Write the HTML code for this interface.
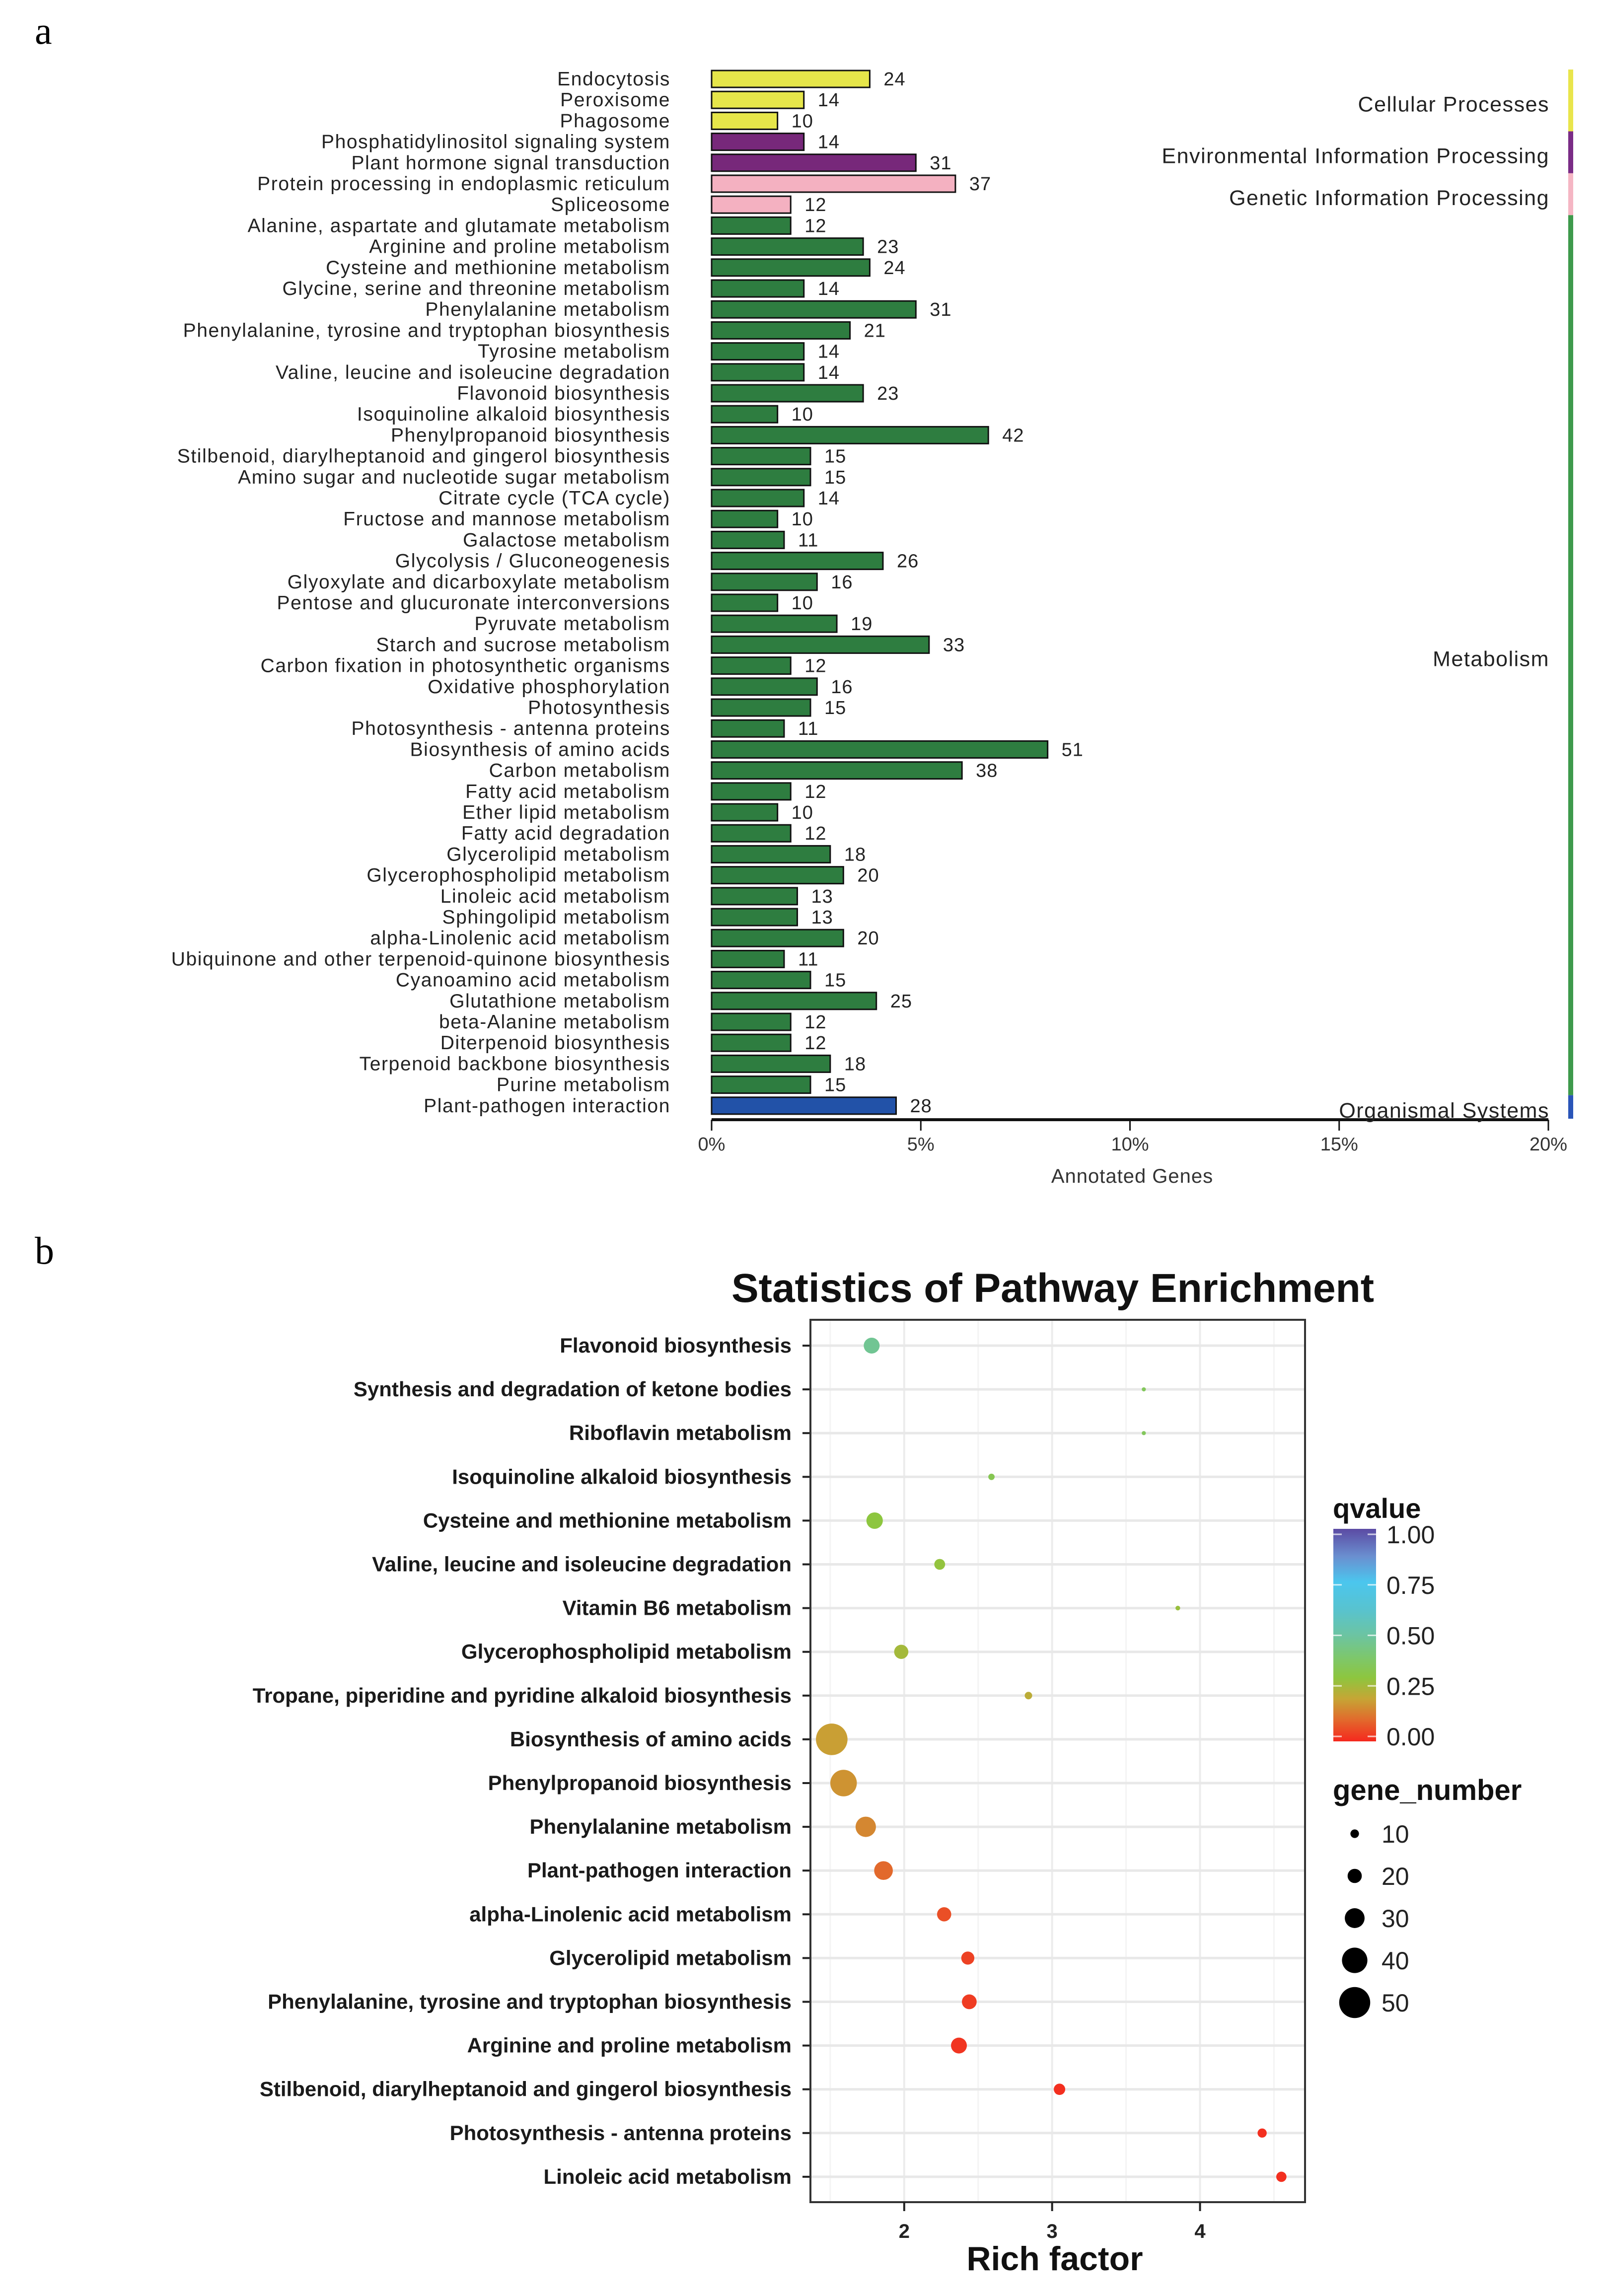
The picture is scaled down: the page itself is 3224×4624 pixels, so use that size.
<!DOCTYPE html>
<html><head><meta charset="utf-8">
<style>
html,body{margin:0;padding:0;background:#fff;}
svg{display:block;}
text{font-family:"Liberation Sans",sans-serif;}
</style></head>
<body>
<svg id="fig" width="3224" height="4624" viewBox="0 0 3224 4624" xmlns="http://www.w3.org/2000/svg">
<defs>
<linearGradient id="qgrad" x1="0" y1="1" x2="0" y2="0">
<stop offset="0" stop-color="#f5281e"/>
<stop offset="0.1" stop-color="#e2692c"/>
<stop offset="0.2" stop-color="#c6a535"/>
<stop offset="0.3" stop-color="#8dc63f"/>
<stop offset="0.4" stop-color="#7cc76f"/>
<stop offset="0.5" stop-color="#6cc4a2"/>
<stop offset="0.62" stop-color="#58c3cf"/>
<stop offset="0.75" stop-color="#4bc6ee"/>
<stop offset="0.87" stop-color="#6a8fd0"/>
<stop offset="1" stop-color="#5b4aa3"/>
</linearGradient>
</defs>
<text x="70" y="88" font-size="78" style="font-family:'Liberation Serif',serif">a</text>
<text x="70" y="2545" font-size="78" style="font-family:'Liberation Serif',serif">b</text>
<g id="pa"></g>
<g id="pb"></g>
</svg>
<script>
// ---------- Panel a data ----------
const pathwayNames = ["Endocytosis","Peroxisome","Phagosome","Phosphatidylinositol signaling system","Plant hormone signal transduction","Protein processing in endoplasmic reticulum","Spliceosome","Alanine, aspartate and glutamate metabolism","Arginine and proline metabolism","Cysteine and methionine metabolism","Glycine, serine and threonine metabolism","Phenylalanine metabolism","Phenylalanine, tyrosine and tryptophan biosynthesis","Tyrosine metabolism","Valine, leucine and isoleucine degradation","Flavonoid biosynthesis","Isoquinoline alkaloid biosynthesis","Phenylpropanoid biosynthesis","Stilbenoid, diarylheptanoid and gingerol biosynthesis","Amino sugar and nucleotide sugar metabolism","Citrate cycle (TCA cycle)","Fructose and mannose metabolism","Galactose metabolism","Glycolysis / Gluconeogenesis","Glyoxylate and dicarboxylate metabolism","Pentose and glucuronate interconversions","Pyruvate metabolism","Starch and sucrose metabolism","Carbon fixation in photosynthetic organisms","Oxidative phosphorylation","Photosynthesis","Photosynthesis - antenna proteins","Biosynthesis of amino acids","Carbon metabolism","Fatty acid metabolism","Ether lipid metabolism","Fatty acid degradation","Glycerolipid metabolism","Glycerophospholipid metabolism","Linoleic acid metabolism","Sphingolipid metabolism","alpha-Linolenic acid metabolism","Ubiquinone and other terpenoid-quinone biosynthesis","Cyanoamino acid metabolism","Glutathione metabolism","beta-Alanine metabolism","Diterpenoid biosynthesis","Terpenoid backbone biosynthesis","Purine metabolism","Plant-pathogen interaction"];
const geneCounts = [24,14,10,14,31,37,12,12,23,24,14,31,21,14,14,23,10,42,15,15,14,10,11,26,16,10,19,33,12,16,15,11,51,38,12,10,12,18,20,13,13,20,11,15,25,12,12,18,15,28];
const groupIndex = [0,0,0,1,1,2,2,3,3,3,3,3,3,3,3,3,3,3,3,3,3,3,3,3,3,3,3,3,3,3,3,3,3,3,3,3,3,3,3,3,3,3,3,3,3,3,3,3,3,4];
const groupNames = ["Cellular Processes","Environmental Information Processing","Genetic Information Processing","Metabolism","Organismal Systems"];
const groupColors = ["#e6e64a","#77287a","#f4b1c1","#2e7d40","#2252a8"];
const stripColors = ["#e9e54c","#7a2c86","#f5b6c4","#3e9a4c","#2a55b8"];
const pctTicks = [0,5,10,15,20];
const totalGenes = 635;

const NS = "http://www.w3.org/2000/svg";
function mk(tag, attrs, parent, txt){
  const e = document.createElementNS(NS, tag);
  for (const k in attrs) e.setAttribute(k, attrs[k]);
  if (txt !== undefined) e.textContent = txt;
  parent.appendChild(e);
  return e;
}
const ax0 = 1433, ax1 = 3118, row0 = 159, rowPitch = 42.2, barH = 34, axisY = 2255;
function xPct(p){ return ax0 + (ax1-ax0)*p/20; }
function xCount(c){ return xPct(c/totalGenes*100); }
function yRow(i){ return row0 + i*rowPitch; }

const pa = document.getElementById('pa');
pathwayNames.forEach((nm,i)=>{
  const y = yRow(i);
  const lab = mk('text',{x:1350,y:y+13,'font-size':39,'letter-spacing':1.6,'text-anchor':'end',fill:'#222'},pa,nm);
  
  
  const r = mk('rect',{x:ax0,y:y-barH/2,width:xCount(geneCounts[i])-ax0,height:barH,fill:groupColors[groupIndex[i]],stroke:'#111','stroke-width':3},pa);
  
  
  const v = mk('text',{x:xCount(geneCounts[i])+28,y:y+13,'font-size':38,'letter-spacing':1,fill:'#222'},pa,String(geneCounts[i]));
  
  
});
const axl = mk('line',{x1:ax0,y1:axisY,x2:ax1,y2:axisY,stroke:'#111','stroke-width':6},pa);


pctTicks.forEach(t=>{
  const tk = mk('line',{x1:xPct(t),y1:axisY,x2:xPct(t),y2:axisY+22,stroke:'#111','stroke-width':3},pa);
  
  
  const tl = mk('text',{x:xPct(t),y:axisY+62,'font-size':38,'text-anchor':'middle',fill:'#333'},pa,t+'%');
  
  
});
const axt = mk('text',{x:2280,y:2382,'font-size':40,'letter-spacing':1,'text-anchor':'middle',fill:'#333'},pa,'Annotated Genes');


groupNames.forEach((g,gi)=>{
  const idx = groupIndex.map((v,i)=>v===gi?i:-1).filter(i=>i>=0);
  const top = gi===0 ? yRow(0)-barH/2-2 : yRow(idx[0])-rowPitch/2;
  const bot = gi===4 ? axisY-2 : yRow(idx[idx.length-1])+rowPitch/2;
  const s = mk('rect',{x:3158,y:top,width:10,height:bot-top,fill:stripColors[gi]},pa);
  
  
  const ly = gi===4 ? axisY-4 : (top+bot)/2+22;
  const t = mk('text',{x:3120,y:ly,'font-size':43,'letter-spacing':1.5,'text-anchor':'end',fill:'#222'},pa,g);
  
  
});

// ---------- Panel b data ----------
const enrichPathways = ["Flavonoid biosynthesis","Synthesis and degradation of ketone bodies","Riboflavin metabolism","Isoquinoline alkaloid biosynthesis","Cysteine and methionine metabolism","Valine, leucine and isoleucine degradation","Vitamin B6 metabolism","Glycerophospholipid metabolism","Tropane, piperidine and pyridine alkaloid biosynthesis","Biosynthesis of amino acids","Phenylpropanoid biosynthesis","Phenylalanine metabolism","Plant-pathogen interaction","alpha-Linolenic acid metabolism","Glycerolipid metabolism","Phenylalanine, tyrosine and tryptophan biosynthesis","Arginine and proline metabolism","Stilbenoid, diarylheptanoid and gingerol biosynthesis","Photosynthesis - antenna proteins","Linoleic acid metabolism"];
const richFactor = [1.78,3.62,3.62,2.59,1.80,2.24,3.85,1.98,2.84,1.51,1.59,1.74,1.86,2.27,2.43,2.44,2.37,3.05,4.42,4.55];
const qValue = [0.47,0.36,0.36,0.34,0.30,0.29,0.28,0.26,0.22,0.19,0.17,0.15,0.10,0.06,0.04,0.03,0.02,0.01,0.01,0.01];
const geneNumber = [23,2,2,6,24,14,3,20,8,51,42,31,28,20,18,21,23,15,11,13];
const richTicks = [2,3,4];
const qTicks = [0,0.25,0.5,0.75,1];
const sizeBreaks = [10,20,30,40,50];

const pL = 1632, pR = 2628, pT = 2658, pB = 4435, xMin = 1.366, xMax = 4.71;
function xRich(v){ return pL + (v-xMin)/(xMax-xMin)*(pR-pL); }
const eRow0 = 2710, ePitch = 88.1;
function yPath(i){ return eRow0 + i*ePitch; }
function rSize(n){ return 3 + 0.565*n; }
const qStops = [[0,[245,40,30]],[0.1,[226,105,44]],[0.2,[198,165,53]],[0.3,[141,198,63]],[0.4,[124,199,111]],[0.5,[108,196,162]],[0.62,[88,195,207]],[0.75,[75,198,238]],[0.87,[106,143,208]],[1,[91,74,163]]];
function qColor(q){
  for(let i=1;i<qStops.length;i++){
    if(q<=qStops[i][0]){
      const a=qStops[i-1],b=qStops[i],t=(q-a[0])/(b[0]-a[0]);
      const c=a[1].map((v,k)=>Math.round(v+(b[1][k]-v)*t));
      return 'rgb('+c.join(',')+')';
    }
  }
  return 'rgb(91,74,163)';
}
function yQ(q){ return 3497 - q*407; }

const pb = document.getElementById('pb');
const title = mk('text',{x:2120,y:2622,'font-size':82,'font-weight':'bold','text-anchor':'middle',fill:'#111'},pb,'Statistics of Pathway Enrichment');


const bg = mk('rect',{x:pL,y:pT,width:pR-pL,height:pB-pT,fill:'#fff'},pb);


[1.5,2.5,3.5,4.5].forEach(v=>{
  const g = mk('line',{x1:xRich(v),y1:pT,x2:xRich(v),y2:pB,stroke:'#f4f4f4','stroke-width':3},pb);
  
  
});
richTicks.forEach(v=>{
  const g = mk('line',{x1:xRich(v),y1:pT,x2:xRich(v),y2:pB,stroke:'#ececec','stroke-width':4},pb);
  
  
});
enrichPathways.forEach((nm,i)=>{
  const y = yPath(i);
  const g = mk('line',{x1:pL,y1:y,x2:pR,y2:y,stroke:'#e8e8e8','stroke-width':5},pb);
  
  
  const tk = mk('line',{x1:pL-16,y1:y,x2:pL,y2:y,stroke:'#222','stroke-width':4},pb);
  
  
  const lab = mk('text',{x:pL-38,y:y+14,'font-size':42,'font-weight':'bold','text-anchor':'end',fill:'#1a1a1a'},pb,nm);
  
  
});
enrichPathways.forEach((nm,i)=>{
  const c = mk('circle',{cx:xRich(richFactor[i]),cy:yPath(i),r:rSize(geneNumber[i]),fill:qColor(qValue[i])},pb);
  
  
});
const frame = mk('rect',{x:pL,y:pT,width:pR-pL,height:pB-pT,fill:'none',stroke:'#333','stroke-width':4},pb);


richTicks.forEach(v=>{
  const tk = mk('line',{x1:xRich(v),y1:pB,x2:xRich(v),y2:pB+18,stroke:'#222','stroke-width':4},pb);
  
  
  const tl = mk('text',{x:xRich(v),y:pB+72,'font-size':40,'font-weight':'bold','text-anchor':'middle',fill:'#222'},pb,String(v));
  
  
});
const xt = mk('text',{x:2124,y:4572,'font-size':68,'font-weight':'bold','text-anchor':'middle',fill:'#111'},pb,'Rich factor');


const qt = mk('text',{x:2684,y:3057,'font-size':56,'font-weight':'bold',fill:'#111'},pb,'qvalue');


const cb = mk('rect',{x:2685,y:3079,width:86,height:428,fill:'url(#qgrad)'},pb);


qTicks.forEach(q=>{
  const a = mk('line',{x1:2685,y1:yQ(q),x2:2702,y2:yQ(q),stroke:'#fff','stroke-width':3,opacity:0.7},pb);
  
  
  const b = mk('line',{x1:2754,y1:yQ(q),x2:2771,y2:yQ(q),stroke:'#fff','stroke-width':3,opacity:0.7},pb);
  
  
  const l = mk('text',{x:2792,y:yQ(q)+18,'font-size':50,fill:'#222'},pb,q.toFixed(2));
  
  
});
const gt = mk('text',{x:2684,y:3625,'font-size':58,'font-weight':'bold',fill:'#111'},pb,'gene_number');


sizeBreaks.forEach((n,i)=>{
  const y = 3693 + i*85;
  const c = mk('circle',{cx:2728,cy:y,r:rSize(n),fill:'#000'},pb);
  
  
  const l = mk('text',{x:2782,y:y+18,'font-size':50,fill:'#222'},pb,String(n));
  
  
});
</script>
</body></html>
